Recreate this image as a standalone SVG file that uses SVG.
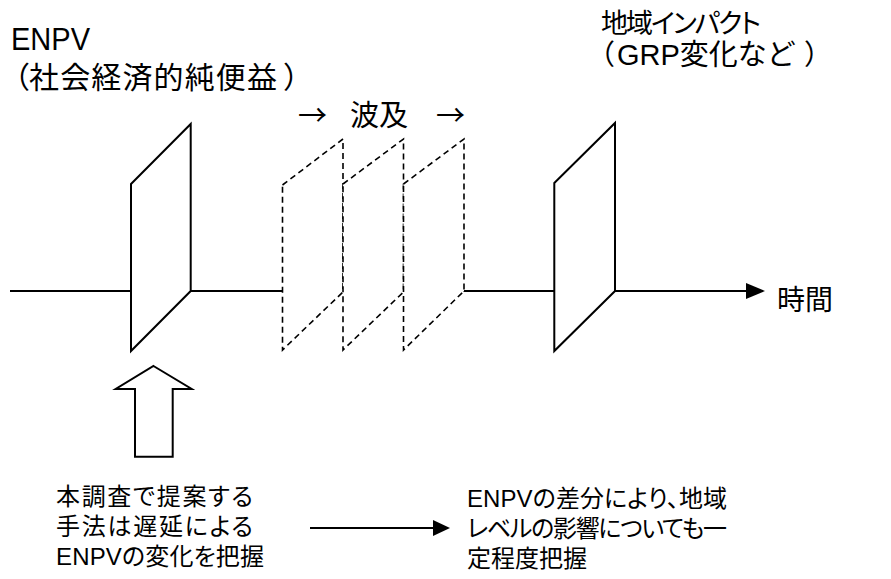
<svg xmlns="http://www.w3.org/2000/svg" width="891" height="579" viewBox="0 0 891 579">
<defs>
<style>
.t{font-family:"Liberation Sans","Noto Sans CJK JP",sans-serif;fill:#000;}
.p{font-feature-settings:"palt";}
.j{font-family:"Noto Sans CJK JP",sans-serif;fill:#000;}
.s{fill:#fff;stroke:#000;stroke-width:2;stroke-linejoin:miter;}
.d{fill:#fff;stroke:#000;stroke-width:1.6;stroke-dasharray:6 4;}
.ln{stroke:#000;stroke-width:2.2;fill:none;}
</style>
</defs>
<rect width="891" height="579" fill="#fff"/>
<g id="connectors">
<line class="ln" x1="10" y1="291" x2="748" y2="291"/>
<path d="M746,283 L765,291 L746,299 Z" fill="#000"/>
<line class="ln" x1="310" y1="528" x2="436" y2="528"/>
<path d="M433,520 L450,528 L433,536 Z" fill="#000"/>
</g>
<g id="enpv-plane"><polygon class="s" points="131,184 190.7,124 190.7,291 131,351"/></g>
<g id="ripple-1"><polygon class="d" points="282.5,185 343,139 343,292 282.5,350"/></g>
<g id="ripple-2"><polygon class="d" points="343,184 403.5,139 403.5,292 343,350"/></g>
<g id="ripple-3"><polygon class="d" points="403.5,184 464,139 464,291 403.5,350"/></g>
<g id="region-plane"><polygon class="s" points="554.3,183 615,123 615,291 554.3,351"/></g>
<g id="up-arrow"><polygon class="s" points="153.5,366 191.7,389 172.7,389 172.7,456.7 135,456.7 135,389 115.7,389"/></g>
<g id="label-enpv">
<text class="t" x="11" y="50" font-size="31" textLength="79" lengthAdjust="spacingAndGlyphs">ENPV</text>
<text class="j" y="88" font-size="30"><tspan x="0">（</tspan><tspan x="29" textLength="248">社会経済的純便益</tspan><tspan x="283">）</tspan></text>
</g>
<g id="label-region">
<text class="t p" x="601" y="33" font-size="27" textLength="160">地域インパクト</text>
<text class="j" y="65" font-size="28"><tspan x="587">（</tspan><tspan class="t" x="617" font-size="29">GRP変化など</tspan><tspan x="804">）</tspan></text>
</g>
<g id="label-ripple">
<text class="j" y="126" font-size="29"><tspan x="298">→</tspan><tspan x="350">波及</tspan><tspan x="436">→</tspan></text>
</g>
<g id="label-time"><text class="t" x="777" y="310" font-size="28">時間</text></g>
<g id="label-method">
<text class="t p" x="56" y="505" font-size="24" textLength="197">本調査で提案する</text>
<text class="t p" x="56" y="535" font-size="24" textLength="197">手法は遅延による</text>
<text class="t p" x="56" y="565" font-size="24" textLength="208">ENPVの変化を把握</text>
</g>
<g id="label-diff">
<text class="t p" x="467" y="507" font-size="24" textLength="260">ENPVの差分により、地域</text>
<text class="t p" x="467" y="537" font-size="24" textLength="260">レベルの影響についても一</text>
<text class="t p" x="467" y="567" font-size="24" textLength="120">定程度把握</text>
</g>
</svg>
